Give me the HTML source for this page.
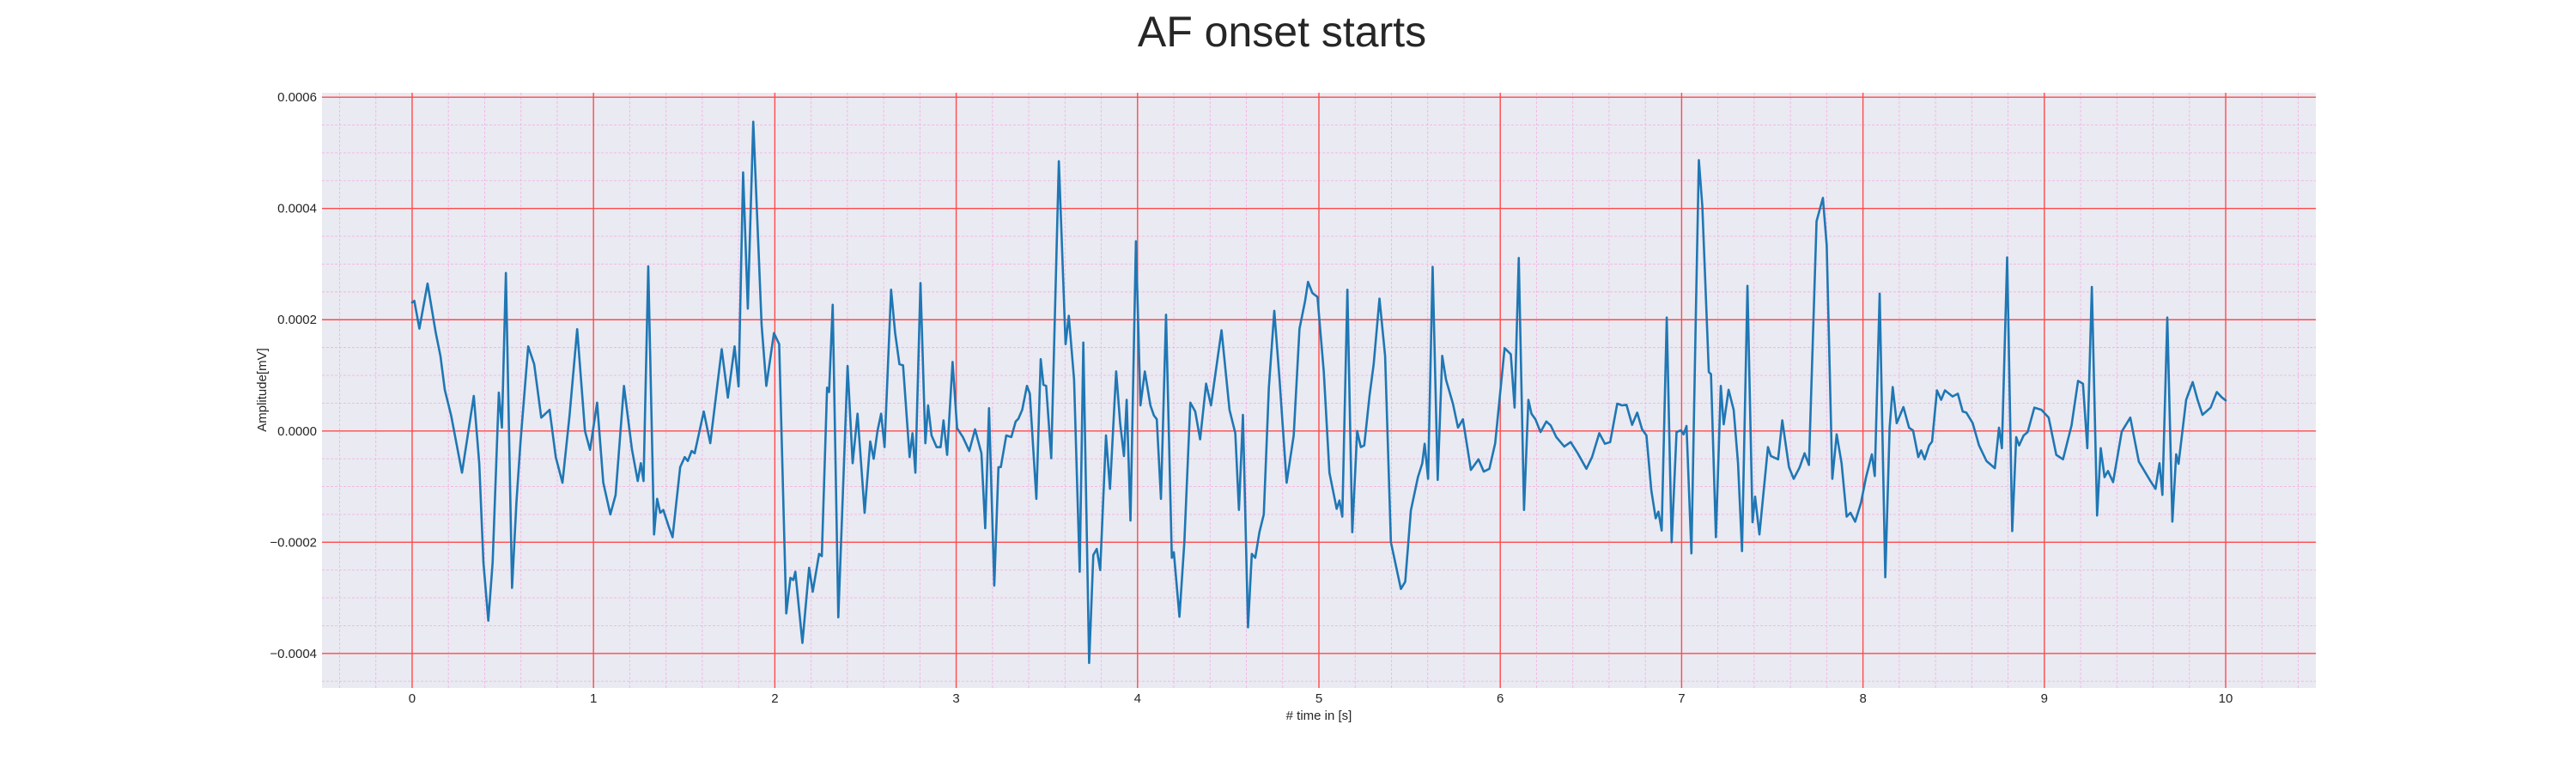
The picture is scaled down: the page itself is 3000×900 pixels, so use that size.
<!DOCTYPE html>
<html><head><meta charset="utf-8">
<style>
html,body{margin:0;padding:0;background:#fff;}
svg{display:block;font-family:"Liberation Sans",Arial,sans-serif;}
</style></head>
<body>
<svg id="chart" width="3000" height="900" viewBox="0 0 3000 900" xmlns="http://www.w3.org/2000/svg">
  <rect x="0" y="0" width="3000" height="900" fill="#ffffff"/>
  <text x="1493" y="54" font-size="50" fill="#262626" text-anchor="middle">AF onset starts</text>
  <rect x="375" y="108" width="2322" height="693" fill="#eaeaf2"/>
  <g id="minor-grid"></g>
  <g id="major-grid"></g>
  <g id="ticks"></g>
  <g id="series"></g>
  <text transform="translate(310,454) rotate(-90)" font-size="15" fill="#262626" text-anchor="middle">Amplitude[mV]</text>
  <text x="1536" y="838" font-size="15" fill="#262626" text-anchor="middle"># time in [s]</text>
</svg>
<script>
// time stamps (s)
const times = [0,0.012,0.04,0.085,0.13,0.156,0.18,0.215,0.275,0.34,0.37,0.393,0.42,0.444,0.478,0.495,0.517,0.551,0.575,0.597,0.64,0.673,0.712,0.758,0.792,0.829,0.868,0.91,0.953,0.981,1.02,1.054,1.093,1.122,1.168,1.212,1.244,1.261,1.276,1.302,1.334,1.351,1.368,1.385,1.415,1.436,1.478,1.503,1.52,1.541,1.558,1.608,1.644,1.707,1.741,1.778,1.8,1.825,1.851,1.881,1.927,1.953,1.995,2.024,2.063,2.086,2.102,2.113,2.152,2.189,2.209,2.244,2.259,2.288,2.299,2.319,2.35,2.401,2.429,2.456,2.495,2.526,2.545,2.566,2.586,2.605,2.641,2.663,2.687,2.707,2.743,2.759,2.775,2.803,2.83,2.845,2.864,2.892,2.914,2.93,2.95,2.98,3.005,3.037,3.072,3.104,3.139,3.16,3.181,3.21,3.233,3.246,3.276,3.304,3.328,3.343,3.364,3.39,3.406,3.442,3.466,3.481,3.496,3.524,3.566,3.603,3.621,3.65,3.681,3.701,3.733,3.756,3.775,3.794,3.826,3.848,3.882,3.904,3.925,3.94,3.961,3.991,4.016,4.04,4.071,4.09,4.106,4.129,4.157,4.189,4.2,4.231,4.258,4.291,4.318,4.345,4.378,4.405,4.463,4.507,4.539,4.559,4.581,4.609,4.63,4.649,4.672,4.696,4.724,4.754,4.783,4.822,4.861,4.893,4.924,4.94,4.964,4.992,5.027,5.058,5.098,5.113,5.129,5.157,5.184,5.211,5.231,5.25,5.279,5.302,5.334,5.365,5.397,5.452,5.476,5.507,5.546,5.57,5.583,5.602,5.627,5.655,5.68,5.701,5.739,5.767,5.794,5.838,5.88,5.909,5.94,5.972,6.024,6.058,6.079,6.102,6.131,6.155,6.172,6.194,6.222,6.254,6.278,6.309,6.353,6.388,6.427,6.475,6.506,6.546,6.577,6.606,6.645,6.672,6.696,6.727,6.755,6.782,6.806,6.833,6.857,6.872,6.89,6.918,6.945,6.972,6.995,7.011,7.027,7.054,7.079,7.095,7.114,7.15,7.162,7.189,7.216,7.232,7.259,7.287,7.311,7.333,7.363,7.391,7.405,7.429,7.476,7.492,7.532,7.555,7.592,7.618,7.65,7.678,7.702,7.744,7.779,7.8,7.831,7.855,7.882,7.91,7.931,7.957,7.989,8.017,8.049,8.065,8.092,8.123,8.147,8.164,8.186,8.223,8.254,8.276,8.305,8.321,8.34,8.365,8.381,8.408,8.431,8.452,8.494,8.523,8.55,8.57,8.605,8.64,8.681,8.727,8.75,8.766,8.795,8.823,8.845,8.861,8.886,8.908,8.945,8.984,9.024,9.066,9.103,9.15,9.186,9.213,9.237,9.262,9.291,9.311,9.332,9.351,9.379,9.427,9.474,9.521,9.585,9.613,9.635,9.651,9.678,9.706,9.727,9.74,9.782,9.818,9.845,9.872,9.917,9.951,9.98,10.0];
// amplitude in units of 1e-4 mV
const amp = [2.31,2.34,1.84,2.65,1.77,1.35,0.74,0.28,-0.75,0.63,-0.58,-2.36,-3.41,-2.36,0.69,0.06,2.84,-2.82,-1.29,-0.22,1.52,1.2,0.24,0.38,-0.47,-0.93,0.28,1.83,0.0,-0.34,0.51,-0.93,-1.5,-1.15,0.81,-0.33,-0.9,-0.58,-0.9,2.96,-1.86,-1.22,-1.47,-1.42,-1.72,-1.91,-0.65,-0.47,-0.54,-0.36,-0.4,0.35,-0.22,1.47,0.6,1.52,0.8,4.65,2.2,5.56,1.91,0.81,1.76,1.56,-3.28,-2.64,-2.68,-2.53,-3.81,-2.46,-2.89,-2.21,-2.25,0.78,0.7,2.27,-3.35,1.17,-0.58,0.31,-1.47,-0.19,-0.5,0.0,0.31,-0.29,2.54,1.77,1.2,1.18,-0.47,-0.04,-0.75,2.66,-0.22,0.46,-0.08,-0.29,-0.29,0.19,-0.43,1.24,0.05,-0.11,-0.36,0.03,-0.4,-1.75,0.41,-2.78,-0.65,-0.65,-0.08,-0.11,0.17,0.22,0.38,0.81,0.67,-1.22,1.29,0.83,0.81,-0.49,4.85,1.56,2.07,0.92,-2.53,1.59,-4.17,-2.23,-2.12,-2.5,-0.08,-1.04,1.07,0.14,-0.45,0.56,-1.61,3.41,0.46,1.07,0.46,0.28,0.21,-1.22,2.09,-2.28,-2.18,-3.34,-2.0,0.51,0.35,-0.15,0.85,0.46,1.81,0.38,-0.04,-1.42,0.29,-3.53,-2.21,-2.28,-1.82,-1.5,0.78,2.16,0.92,-0.93,-0.08,1.84,2.34,2.68,2.48,2.41,1.06,-0.75,-1.4,-1.25,-1.54,2.54,-1.82,0.0,-0.29,-0.26,0.63,1.2,2.38,1.35,-2.0,-2.84,-2.71,-1.43,-0.83,-0.58,-0.23,-0.86,2.95,-0.88,1.35,0.92,0.49,0.06,0.21,-0.7,-0.51,-0.73,-0.68,-0.22,1.49,1.38,0.42,3.11,-1.42,0.56,0.31,0.21,-0.02,0.17,0.1,-0.11,-0.28,-0.2,-0.4,-0.68,-0.47,-0.04,-0.23,-0.2,0.49,0.46,0.47,0.11,0.33,0.03,-0.08,-1.07,-1.57,-1.45,-1.79,2.04,-2.0,-0.02,0.01,-0.06,0.09,-2.2,2.2,4.87,4.05,1.06,1.02,-1.91,0.81,0.12,0.74,0.38,-0.58,-2.16,2.61,-1.64,-1.18,-1.86,-0.29,-0.45,-0.51,0.19,-0.65,-0.86,-0.66,-0.4,-0.61,3.77,4.19,3.34,-0.86,-0.06,-0.58,-1.54,-1.47,-1.63,-1.29,-0.83,-0.42,-0.81,2.47,-2.63,0.06,0.79,0.14,0.43,0.06,0.01,-0.47,-0.35,-0.51,-0.26,-0.19,0.73,0.56,0.73,0.62,0.67,0.35,0.33,0.14,-0.26,-0.54,-0.67,0.06,-0.31,3.12,-1.8,-0.11,-0.26,-0.08,-0.02,0.42,0.38,0.24,-0.43,-0.51,0.1,0.9,0.85,-0.31,2.59,-1.52,-0.31,-0.83,-0.72,-0.92,-0.01,0.24,-0.55,-0.9,-1.04,-0.58,-1.15,2.04,-1.63,-0.42,-0.59,0.56,0.88,0.56,0.29,0.42,0.7,0.6,0.55];
const ampScale = 1e-4;
const xTickValues = [0,1,2,3,4,5,6,7,8,9,10];
const yTickValues = [-0.0004,-0.0002,0.0,0.0002,0.0004,0.0006];
const yTickLabels = ["\u22120.0004","\u22120.0002","0.0000","0.0002","0.0004","0.0006"];

const NS = "http://www.w3.org/2000/svg";
const PL = 375, PR = 2697, PT = 108, PB = 801;
const XMIN = -0.497, XMAX = 10.497;
const YMIN = -4.62e-4, YMAX = 6.08e-4;
function xs(t){ return PL + (t - XMIN) / (XMAX - XMIN) * (PR - PL); }
function ys(v){ return PB - (v - YMIN) / (YMAX - YMIN) * (PB - PT); }
function mk(tag, attrs, parent){
  const e = document.createElementNS(NS, tag);
  for (const k in attrs) e.setAttribute(k, attrs[k]);
  parent.appendChild(e);
  return e;
}
const minorG = document.getElementById('minor-grid');
const majorG = document.getElementById('major-grid');
const tickG = document.getElementById('ticks');
const seriesG = document.getElementById('series');

for (let i = -2; i <= 52; i++) {
  const t = i * 0.2;
  if (t < XMIN || t > XMAX) continue;
  if (Math.abs(t - Math.round(t)) < 1e-6) continue;
  const l = mk('line', {x1: xs(t), x2: xs(t), y1: PT, y2: PB, stroke: '#f3b4e4', 'stroke-width': 0.9, 'stroke-dasharray': '3,2'}, minorG);
  
  
}
for (let i = -10; i <= 12; i++) {
  const v = i * 0.5e-4;
  if (v < YMIN || v > YMAX) continue;
  if (i % 4 === 0) continue;
  const l = mk('line', {x1: PL, x2: PR, y1: ys(v), y2: ys(v), stroke: '#f3b4e4', 'stroke-width': 0.9, 'stroke-dasharray': '3,2'}, minorG);
  
  
}
xTickValues.forEach(t => {
  const l = mk('line', {x1: xs(t), x2: xs(t), y1: PT, y2: PB, stroke: '#ff4a4a', 'stroke-width': 1.4}, majorG);
  
  
  const tx = mk('text', {x: xs(t), y: 818, 'font-size': 15, fill: '#262626', 'text-anchor': 'middle'}, tickG);
  tx.textContent = String(t);
  
  
});
yTickValues.forEach((v, i) => {
  const l = mk('line', {x1: PL, x2: PR, y1: ys(v), y2: ys(v), stroke: '#ff4a4a', 'stroke-width': 1.4}, majorG);
  
  
  const tx = mk('text', {x: 369, y: ys(v) + 5, 'font-size': 15, fill: '#262626', 'text-anchor': 'end'}, tickG);
  tx.textContent = yTickLabels[i];
  
  
});
let d = '';
times.forEach((t, i) => {
  d += (i ? 'L' : 'M') + xs(t).toFixed(2) + ',' + ys(amp[i] * ampScale).toFixed(2);
});
const path = mk('path', {d: d, fill: 'none', stroke: '#1f77b4', 'stroke-width': 2.6, 'stroke-linejoin': 'round', 'stroke-linecap': 'round'}, seriesG);


</script>
</body></html>
